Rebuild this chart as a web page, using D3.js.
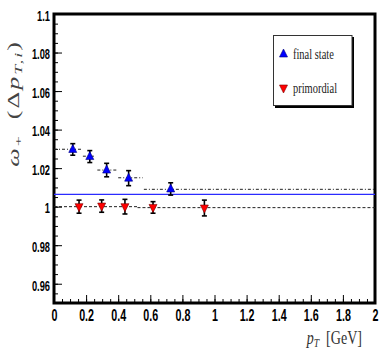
<!DOCTYPE html>
<html>
<head>
<meta charset="utf-8">
<script src="https://cdn.jsdelivr.net/npm/d3@7"></script>
<style>
  html, body { margin: 0; padding: 0; background: #fff; }
  svg { display: block; }
</style>
</head>
<body>
<svg width="392" height="354"></svg>
<script>
// final state (blue, up triangles)
const finalX = [0.117, 0.223, 0.328, 0.465, 0.727];
const finalY = [1.0297, 1.026, 1.019, 1.0148, 1.0092];
const finalErr = [0.0030, 0.0031, 0.0035, 0.0039, 0.0032];
// final state bin lines
const finalBinLo = [0.0, 0.18, 0.27, 0.40, 0.56];
const finalBinHi = [0.18, 0.26, 0.39, 0.553, 2.0];
const finalBinVal = [1.0298, 1.0262, 1.019, 1.015, 1.009];

// primordial (red, down triangles)
const primX = [0.156, 0.297, 0.442, 0.617, 0.937];
const primY = [1.0, 1.0003, 1.0, 0.9996, 0.9993];
const primErr = [0.0034, 0.0032, 0.0038, 0.003, 0.0041];
const primBinLo = [0.0, 0.52];
const primBinHi = [0.52, 2.0];
const primBinVal = [1.0, 0.9995];

// average line
const meanValue = [1.0064];

const yMajor = [0.96, 0.98, 1.0, 1.02, 1.04, 1.06, 1.08, 1.1];
const xMajor = [0, 0.2, 0.4, 0.6, 0.8, 1, 1.2, 1.4, 1.6, 1.8, 2];

const svg = d3.select("svg");
const x = d3.scaleLinear().domain([0, 2]).range([54, 375]);
const y = d3.scaleLinear().domain([0.95, 1.1]).range([303, 14]);

const sx = 0.62; // squeezed look of the original fonts

// minor ticks
svg.append("g")
    .attr("transform", `translate(${x(0)},0)`)
    .call(d3.axisLeft(y).tickValues(d3.range(0.955, 1.1, 0.005)).tickSize(-4).tickFormat(""))
    .call(g => g.select(".domain").remove())
    .selectAll("line").attr("stroke", "#000").attr("stroke-width", 1);

svg.append("g")
    .attr("transform", `translate(0,${y(0.95)})`)
    .call(d3.axisBottom(x).tickValues(d3.range(0.05, 2, 0.05)).tickSize(-4).tickFormat(""))
    .call(g => g.select(".domain").remove())
    .selectAll("line").attr("stroke", "#000").attr("stroke-width", 1);

// major ticks + labels
const yAxis = svg.append("g")
    .attr("transform", `translate(${x(0)},0)`)
    .call(d3.axisLeft(y).tickValues(yMajor).tickSize(-8).tickPadding(4)
        .tickFormat(d => String(+d.toFixed(2))));
yAxis.select(".domain").remove();
yAxis.selectAll("line").attr("stroke", "#000").attr("stroke-width", 1);
yAxis.selectAll("text")
    .attr("font-family", "'Liberation Sans', Arial, sans-serif")
    .attr("font-weight", "bold")
    .attr("font-size", 15)
    .attr("fill", "#000")
    .attr("x", -4 / sx)
    .attr("dy", "0.42em")
    .attr("transform", `scale(${sx},1)`);

const xAxis = svg.append("g")
    .attr("transform", `translate(0,${y(0.95)})`)
    .call(d3.axisBottom(x).tickValues(xMajor).tickSize(-8).tickPadding(6)
        .tickFormat(d => String(+d.toFixed(1))));
xAxis.select(".domain").remove();
xAxis.selectAll("line").attr("stroke", "#000").attr("stroke-width", 1);
xAxis.selectAll("text")
    .attr("font-family", "'Liberation Sans', Arial, sans-serif")
    .attr("font-weight", "bold")
    .attr("font-size", 16.5)
    .attr("fill", "#000")
    .attr("transform", `scale(${sx + 0.03},1)`);

// frame
svg.append("rect")
    .attr("x", x(0)).attr("y", y(1.1))
    .attr("width", x(2) - x(0)).attr("height", y(0.95) - y(1.1))
    .attr("fill", "none").attr("stroke", "#000").attr("stroke-width", 3);

// mean line
svg.append("line")
    .attr("x1", x(0)).attr("x2", x(2))
    .attr("y1", y(meanValue[0])).attr("y2", y(meanValue[0]))
    .attr("stroke", "#2b2bff").attr("stroke-width", 1.3);

// bin lines
svg.selectAll(".fbin")
    .data(finalBinVal)
    .enter().append("line")
    .attr("class", "fbin")
    .attr("x1", (d, i) => x(finalBinLo[i]))
    .attr("x2", (d, i) => x(finalBinHi[i]))
    .attr("y1", d => y(d)).attr("y2", d => y(d))
    .attr("stroke", "#222").attr("stroke-width", 1)
    .attr("stroke-dasharray", "3,2,1,2");

svg.selectAll(".pbin")
    .data(primBinVal)
    .enter().append("line")
    .attr("class", "pbin")
    .attr("x1", (d, i) => x(primBinLo[i]))
    .attr("x2", (d, i) => x(primBinHi[i]))
    .attr("y1", d => y(d)).attr("y2", d => y(d))
    .attr("stroke", "#222").attr("stroke-width", 1)
    .attr("stroke-dasharray", "3,2");

const upTri = "M0,-5L4,3L-4,3Z";
const downTri = "M0,5L4,-3L-4,-3Z";

function drawSeries(xs, ys, errs, path, color, stroke) {
    const g = svg.append("g");
    const pts = xs.map((v, i) => ({ x: v, y: ys[i], e: errs[i] }));
    g.selectAll(".err")
        .data(pts).enter().append("line")
        .attr("x1", d => x(d.x)).attr("x2", d => x(d.x))
        .attr("y1", d => y(d.y + d.e)).attr("y2", d => y(d.y - d.e))
        .attr("stroke", "#000").attr("stroke-width", 1.6);
    g.selectAll(".cap")
        .data(pts.flatMap(d => [[d.x, d.y + d.e], [d.x, d.y - d.e]])).enter().append("line")
        .attr("x1", d => x(d[0]) - 2.5).attr("x2", d => x(d[0]) + 2.5)
        .attr("y1", d => y(d[1])).attr("y2", d => y(d[1]))
        .attr("stroke", "#000").attr("stroke-width", 1.6);
    g.selectAll(".mk")
        .data(pts).enter().append("path")
        .attr("d", path)
        .attr("transform", d => `translate(${x(d.x)},${y(d.y)})`)
        .attr("fill", color).attr("stroke", stroke).attr("stroke-width", 0.6);
}

drawSeries(finalX, finalY, finalErr, upTri, "#0000ff", "#00007a");
drawSeries(primX, primY, primErr, downTri, "#ff0000", "#7a0000");

// legend
const lg = svg.append("g");
lg.append("rect").attr("x", 275).attr("y", 37).attr("width", 79).attr("height", 71).attr("fill", "#000");
lg.append("rect").attr("x", 273.5).attr("y", 35.5).attr("width", 78.5).attr("height", 70)
    .attr("fill", "#fff").attr("stroke", "#333").attr("stroke-width", 1);
const legendItems = [
    { label: "final state", path: upTri, color: "#0000ff", stroke: "#00007a", yy: 54 },
    { label: "primordial", path: downTri, color: "#ff0000", stroke: "#7a0000", yy: 88 }
];
legendItems.forEach(it => {
    lg.append("path").attr("d", it.path)
        .attr("transform", `translate(283.5,${it.yy})`)
        .attr("fill", it.color).attr("stroke", it.stroke).attr("stroke-width", 0.6);
    lg.append("text")
        .attr("transform", `translate(293,${it.yy + 5}) scale(0.72,1)`)
        .attr("font-family", "'Liberation Serif', 'DejaVu Serif', serif")
        .attr("font-size", 14.5)
        .attr("fill", "#222")
        .text(it.label);
});

// x title
const xt = svg.append("text")
    .attr("transform", "translate(362,344) scale(0.74,1)")
    .attr("text-anchor", "end")
    .attr("font-family", "'Liberation Serif', 'DejaVu Serif', serif")
    .attr("font-size", 19)
    .attr("fill", "#333");
xt.append("tspan").attr("font-style", "italic").text("p");
xt.append("tspan").attr("font-style", "italic").attr("font-size", 13).attr("dy", 3).text("T");
xt.append("tspan").attr("dy", -3).text("\u2002[GeV]");

// y title
const yt = svg.append("text")
    .attr("transform", "translate(19,40) scale(0.62,1) rotate(-90)")
    .attr("text-anchor", "end")
    .attr("font-family", "'Liberation Serif', 'DejaVu Serif', serif")
    .attr("font-size", 26)
    .attr("letter-spacing", 2)
    .attr("fill", "#444");
yt.append("tspan").attr("font-style", "italic").text("\u03c9");
yt.append("tspan").attr("font-size", 18).attr("dy", 5).text("+");
yt.append("tspan").attr("dy", -5).text("\u2002(\u0394");
yt.append("tspan").attr("font-style", "italic").text("p");
yt.append("tspan").attr("font-style", "italic").attr("font-size", 18).attr("dy", 5).text("T,i");
yt.append("tspan").attr("dy", -5).text(")");
</script>
</body>
</html>
